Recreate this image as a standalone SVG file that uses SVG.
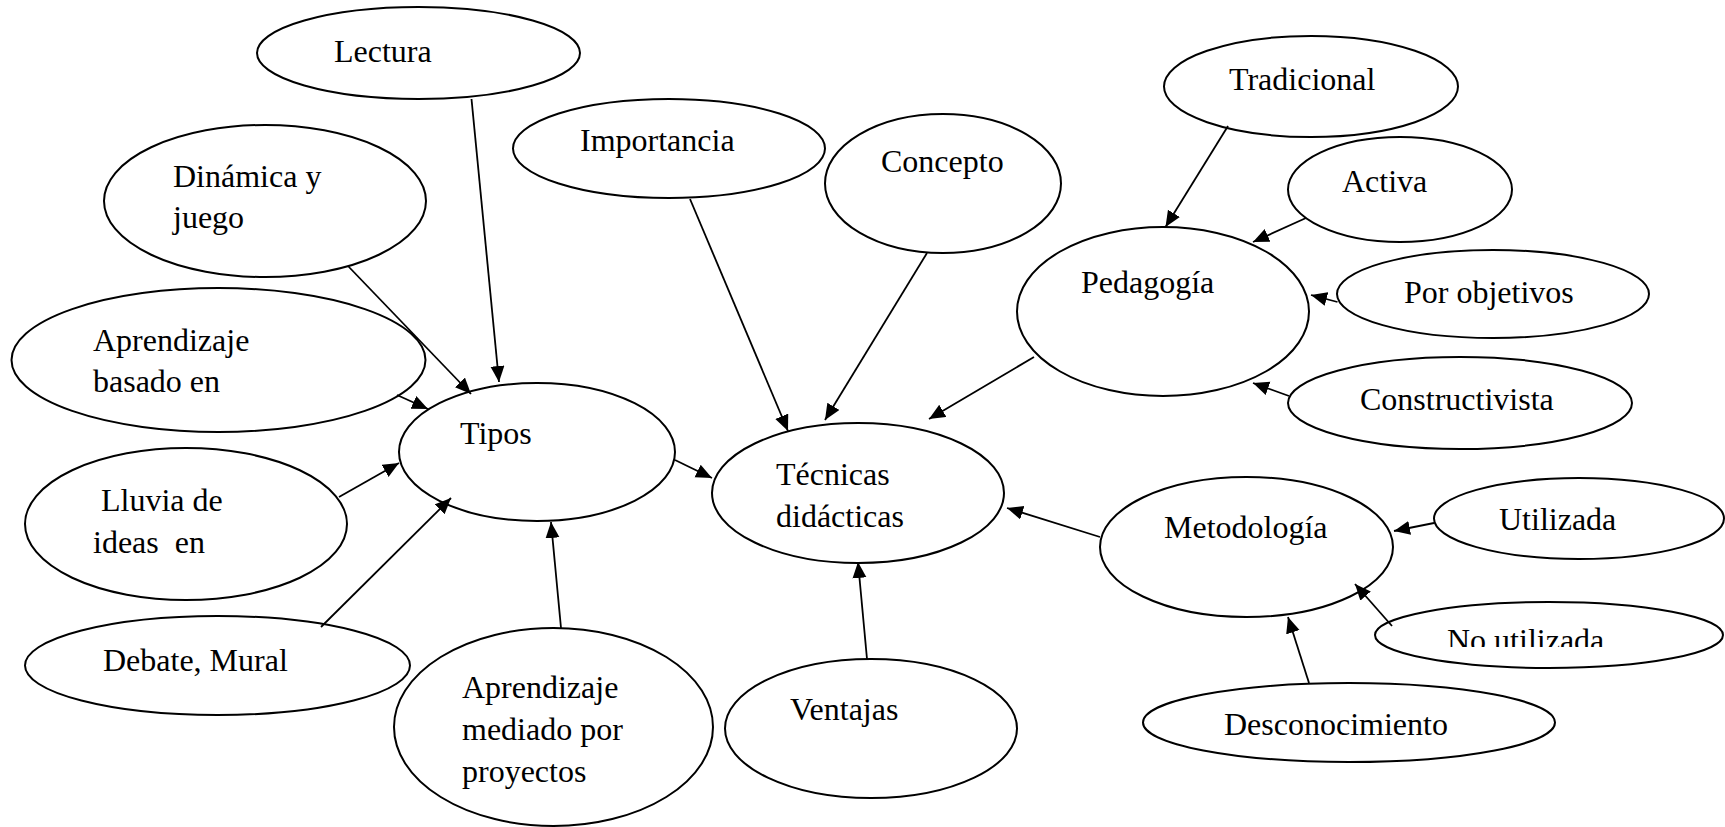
<svg xmlns="http://www.w3.org/2000/svg" width="1725" height="827" viewBox="0 0 1725 827">
<style>
ellipse{fill:#fff;stroke:#000;stroke-width:2}
text{font-family:"Liberation Serif","Times New Roman",serif;font-size:32px;fill:#000;white-space:pre}
.c line{stroke:#000;stroke-width:1.8;marker-end:url(#ah)}
</style>
<defs>
<marker id="ah" markerUnits="userSpaceOnUse" markerWidth="17" markerHeight="15" refX="16" refY="7" orient="auto">
<path d="M0,0 L16,7 L0,14 z" fill="#000"/>
</marker>
<clipPath id="nuclip"><rect x="1380" y="600" width="345" height="47"/></clipPath>
</defs>
<rect width="1725" height="827" fill="#fff"/>
<g id="lectura"><ellipse cx="418.5" cy="53" rx="161.5" ry="46"/><text x="334" y="62">Lectura</text></g>
<g id="dinamica"><ellipse cx="265" cy="201" rx="161" ry="76"/><text x="173" y="187">Dinámica y</text><text x="173" y="228">juego</text></g>
<g id="importancia"><ellipse cx="669" cy="148.5" rx="156" ry="49.5"/><text x="580" y="151">Importancia</text></g>
<g id="concepto"><ellipse cx="943" cy="183.5" rx="118" ry="69.5"/><text x="881" y="172">Concepto</text></g>
<g id="tradicional"><ellipse cx="1311" cy="86.5" rx="147" ry="50.5"/><text x="1229" y="90">Tradicional</text></g>
<g id="activa"><ellipse cx="1400" cy="189.5" rx="112" ry="52.5"/><text x="1342" y="192">Activa</text></g>
<g id="pedagogia"><ellipse cx="1163" cy="311.5" rx="146" ry="84.5"/><text x="1081" y="293">Pedagogía</text></g>
<g id="objetivos"><ellipse cx="1493" cy="294" rx="156" ry="44"/><text x="1404" y="303">Por objetivos</text></g>
<g id="constructivista"><ellipse cx="1460" cy="403" rx="172" ry="46"/><text x="1360" y="410">Constructivista</text></g>
<g id="basado"><ellipse cx="218.5" cy="360" rx="207" ry="72"/><text x="93" y="351">Aprendizaje</text><text x="93" y="392">basado en</text></g>
<g id="tipos"><ellipse cx="537" cy="452" rx="138" ry="69"/><text x="460" y="444">Tipos</text></g>
<g id="tecnicas"><ellipse cx="858" cy="493" rx="146" ry="70"/><text x="776" y="485">Técnicas</text><text x="776" y="527">didácticas</text></g>
<g id="metodologia"><ellipse cx="1246.5" cy="547" rx="146.5" ry="70"/><text x="1164" y="538">Metodología</text></g>
<g id="utilizada"><ellipse cx="1579" cy="518.5" rx="145" ry="40.5"/><text x="1499" y="530">Utilizada</text></g>
<g id="noutilizada"><ellipse cx="1549" cy="635" rx="174" ry="33"/><text x="1447" y="651" clip-path="url(#nuclip)">No utilizada</text></g>
<g id="lluvia"><ellipse cx="186" cy="524" rx="161" ry="76"/><text x="101" y="511">Lluvia de</text><text x="93" y="553">ideas  en</text></g>
<g id="debate"><ellipse cx="217.5" cy="665.5" rx="192.5" ry="49.5"/><text x="103" y="671">Debate, Mural</text></g>
<g id="mediado"><ellipse cx="553.5" cy="727" rx="159.5" ry="99"/><text x="462" y="698">Aprendizaje</text><text x="462" y="740">mediado por</text><text x="462" y="782">proyectos</text></g>
<g id="ventajas"><ellipse cx="871" cy="728.5" rx="146" ry="69.5"/><text x="790" y="720">Ventajas</text></g>
<g id="desconocimiento"><ellipse cx="1349" cy="722.5" rx="206" ry="39.5"/><text x="1224" y="735">Desconocimiento</text></g>
<g id="connectors" class="c">
<line x1="471.5" y1="99" x2="499" y2="382"/>
<line x1="348" y1="266" x2="471" y2="394"/>
<line x1="397" y1="395" x2="428" y2="409"/>
<line x1="339" y1="497" x2="399" y2="463"/>
<line x1="321" y1="627" x2="451" y2="498"/>
<line x1="561" y1="628" x2="551" y2="522"/>
<line x1="675" y1="460" x2="712" y2="478"/>
<line x1="690" y1="199" x2="788" y2="431"/>
<line x1="927" y1="253" x2="825" y2="420"/>
<line x1="1034" y1="357" x2="929" y2="419"/>
<line x1="1100" y1="537" x2="1007" y2="508"/>
<line x1="867" y1="659" x2="858" y2="562"/>
<line x1="1228" y1="126" x2="1165.5" y2="227"/>
<line x1="1306" y1="218" x2="1253" y2="242"/>
<line x1="1337.5" y1="302" x2="1311" y2="295"/>
<line x1="1289" y1="396" x2="1253" y2="383"/>
<line x1="1434" y1="523" x2="1394" y2="531"/>
<line x1="1392" y1="626" x2="1355" y2="584"/>
<line x1="1309" y1="683" x2="1288" y2="617"/>
</g>
</svg>
